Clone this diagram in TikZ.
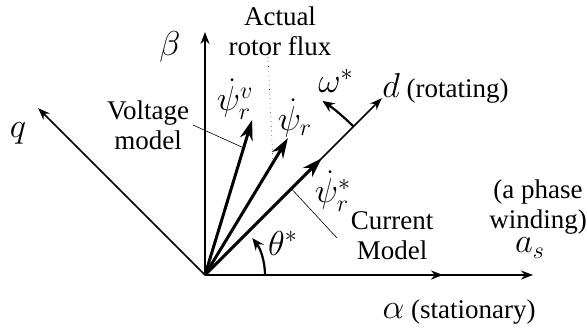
\documentclass[tikz,border=0pt]{standalone}
\usepackage{fontspec}
\setmainfont{Liberation Serif}
\usetikzlibrary{arrows.meta,positioning,calc}

\begin{document}
\begin{tikzpicture}[
  x=0.5pt, y=0.5pt,
  font=\fontsize{13.5}{15}\selectfont,
  axis/.style={line width=0.8pt, -{Stealth[length=6pt, width=4.5pt]}},
  vec/.style={line width=1.5pt, -{Stealth[length=10pt, width=6.5pt]}},
  rot/.style={line width=1.1pt, -{Stealth[length=6pt, width=5pt]}},
  lead/.style={line width=0.3pt},
  lbl/.style={align=center, inner sep=1pt},
  sym/.style={inner sep=1pt, font=\fontsize{16.5}{18}\selectfont},
]
\useasboundingbox (0,0) rectangle (587,327);

% frame
\coordinate (O)     at (205,52);
\coordinate (amid)  at (443,52);
\coordinate (atip)  at (533,52);
\coordinate (btip)  at ([shift={(90:243)}]O);
\coordinate (qtip)  at ([shift={(135:236)}]O);
\coordinate (dtip)  at ([shift={(45:250)}]O);

% flux vectors
\coordinate (pstar) at ([shift={(45:165)}]O);
\coordinate (pact)  at ([shift={(58.8:160)}]O);
\coordinate (pvolt) at ([shift={(73.1:162)}]O);

\draw[axis] (O) -- (atip);
\draw[axis] (O) -- (amid);
\draw[axis] (O) -- (btip);
\draw[axis] (O) -- (qtip);
\draw[axis] (O) -- (dtip);

\draw[vec] (O) -- (pstar);
\draw[vec] (O) -- (pact);
\draw[vec] (O) -- (pvolt);

% angles
\draw[rot] ([shift={(0:60)}]O) arc (0:38:60);
\draw[rot] ([shift={(45:210)}]O) arc (45:56:210);

% labels
\node[sym] (beta)  at (170,280) {$\beta$};
\node[sym] (q)     at (18,194)  {$q$};
\node[lbl, anchor=west] (d) at (380,239) {{\fontsize{16.5}{18}\selectfont$d$}\ (rotating)};
\node[lbl] (alpha) at (459,15)  {{\fontsize{16.5}{18}\selectfont$\alpha$}\ (stationary)};
\node[sym] (as)    at (530,79)  {$a_s$};
\node[lbl] (phase) at (538,120) {(a phase\\winding)};
\node[sym] (theta) at (283,84)  {$\theta^{*}$};
\node[sym] (omega) at (336,246) {$\omega^{*}$};

\node[sym] (lvolt) at (235,228) {$\dot{\psi}_r^{v}$};
\node[sym] (lact)  at (295,209) {$\dot{\psi}_r$};
\node[sym] (lstar) at (333,136) {$\dot{\psi}_r^{*}$};

\node[lbl] (actual)  at (280,296) {Actual\\rotor flux};
\node[lbl] (voltage) at (148,202) {Voltage\\model};
\node[lbl] (current) at (392,91)  {Current\\Model};

% leaders
\coordinate (f1) at (268,270);
\coordinate (v1) at (193,202);
\coordinate (c1) at (337,89);
\draw[lead, dotted] (f1) -- ($(O)!0.82!(pact)$);
\draw[lead] (v1) -- ($(O)!0.82!(pvolt)$);
\draw[lead] ($(O)!0.74!(pstar)$) -- (c1);

\end{tikzpicture}
\end{document}
